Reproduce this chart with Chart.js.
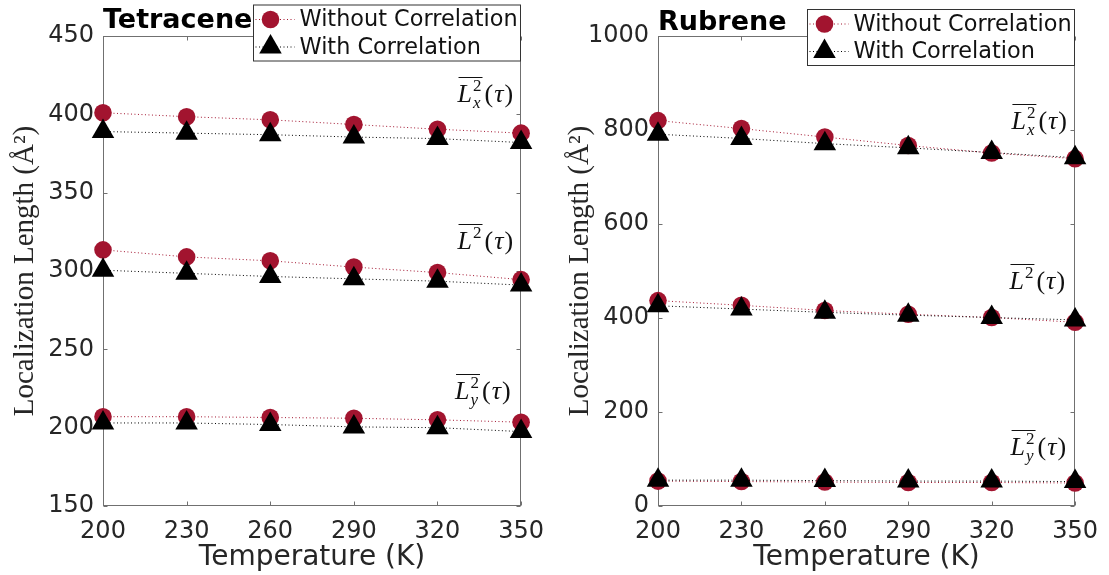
<!DOCTYPE html>
<html>
<head>
<meta charset="utf-8">
<script src="https://cdn.jsdelivr.net/npm/chart.js@4.4.1/dist/chart.umd.min.js"></script>
<style>
  html, body { margin: 0; padding: 0; background: #fff; }
  #wrap { position: relative; width: 1109px; height: 575px; }
  .panel { position: absolute; top: 0; }
</style>
</head>
<body>
<div id="wrap">
  <div class="panel" style="left:0"><canvas id="tetraceneChart" width="555" height="575"></canvas></div>
  <div class="panel" style="left:555px"><canvas id="rubreneChart" width="554" height="575"></canvas></div>
</div>
<script>
// temperatures (K) shared by both panels
const temperatures = [200, 230, 260, 290, 320, 350];
const xTicks = [200, 230, 260, 290, 320, 350];

// Tetracene, localization length (A^2)
const tetLxWithout = [401, 398.5, 396.5, 393.5, 390.5, 388];
const tetLxWith = [389, 388, 387, 385.5, 384.5, 382];
const tetL2Without = [313.5, 309, 306.5, 302.5, 299, 294.5];
const tetL2With = [300.5, 298.5, 296.5, 295, 293.5, 291];
const tetLyWithout = [207, 207, 206.5, 206, 205, 203.5];
const tetLyWith = [203, 203, 202, 200.5, 200, 197.5];
const tetYTicks = [150, 200, 250, 300, 350, 400, 450];

// Rubrene, localization length (A^2)
const rubLxWithout = [820, 803, 785, 767, 751, 739];
const rubLxWith = [791, 782, 771, 762, 752, 741];
const rubL2Without = [437, 427, 416, 408, 401, 391];
const rubL2With = [426, 419, 412, 406, 401, 396];
const rubLyWithout = [53, 52, 51, 50, 50, 49];
const rubLyWith = [55, 55, 54, 53, 53, 52];
const rubYTicks = [0, 200, 400, 600, 800, 1000];

const seriesNames = ["Without Correlation", "With Correlation"];

// where the curve names sit (data units: left edge, baseline)
const tetCurveLabels = [
  { sub: "x", x: 327.2, y: 408 },
  { sub: "", x: 327.2, y: 314.3 },
  { sub: "y", x: 326.3, y: 218.6 },
];
const rubCurveLabels = [
  { sub: "x", x: 327.1, y: 803 },
  { sub: "", x: 326.4, y: 462.5 },
  { sub: "y", x: 326.8, y: 108 },
];

const RED = "#A2142F";
const AXIS = "#707070";
const TEXT = "#262626";

function toPoints(values) {
  return temperatures.map((t, i) => ({ x: t, y: values[i] }));
}

function withoutSet(values) {
  return {
    label: seriesNames[0],
    data: toPoints(values),
    borderColor: RED,
    backgroundColor: RED,
    borderWidth: 1,
    borderDash: [1, 2.5],
    pointStyle: "circle",
    pointRadius: 8.8,
    pointBorderWidth: 0,
    pointBackgroundColor: RED,
    clip: false,
    order: 2,
  };
}

function withSet(values) {
  return {
    label: seriesNames[1],
    data: toPoints(values),
    borderColor: "#000",
    backgroundColor: "#000",
    borderWidth: 1,
    borderDash: [1, 2.5],
    pointStyle: "triangle",
    pointRadius: 13,
    pointBorderWidth: 0,
    pointBackgroundColor: "#000",
    clip: false,
    order: 1,
  };
}

function drawCurveLabel(ctx, x, y, sub) {
  ctx.save();
  ctx.fillStyle = "#111";
  ctx.textAlign = "left";
  ctx.textBaseline = "alphabetic";
  ctx.font = 'italic 26px "Liberation Serif"';
  ctx.fillText("L", x, y);
  let cx = x + ctx.measureText("L").width + 1;
  ctx.font = '17px "Liberation Serif"';
  ctx.fillText("2", cx, y - 11);
  let w = ctx.measureText("2").width;
  if (sub) {
    ctx.font = 'italic 17px "Liberation Serif"';
    ctx.fillText(sub, cx, y + 6);
    w = Math.max(w, ctx.measureText(sub).width);
  }
  cx += w + 1;
  ctx.strokeStyle = "#111";
  ctx.lineWidth = 1;
  ctx.beginPath();
  ctx.moveTo(x + 1, Math.round(y - 25) + 0.5);
  ctx.lineTo(cx, Math.round(y - 25) + 0.5);
  ctx.stroke();
  cx += 2;
  ctx.font = '26px "Liberation Serif"';
  ctx.fillText("(", cx, y);
  cx += ctx.measureText("(").width + 1;
  ctx.font = 'italic 26px "Liberation Serif"';
  ctx.fillText("\u03C4", cx, y);
  cx += ctx.measureText("\u03C4").width + 1;
  ctx.font = '26px "Liberation Serif"';
  ctx.fillText(")", cx, y);
  ctx.restore();
}

// box round the axes with inward ticks, like matlab
const matlabFrame = {
  id: "matlabFrame",
  beforeDatasetsDraw(chart) {
    const { ctx, chartArea: a, scales } = chart;
    const L = Math.round(a.left) + 0.5, R = Math.round(a.right) - 0.5;
    const T = Math.round(a.top) + 0.5, B = Math.round(a.bottom) - 0.5;
    ctx.save();
    ctx.strokeStyle = AXIS;
    ctx.lineWidth = 1;
    ctx.strokeRect(L, T, R - L, B - T);
    ctx.beginPath();
    scales.x.ticks.forEach((t) => {
      const px = Math.round(scales.x.getPixelForValue(t.value)) + 0.5;
      ctx.moveTo(px, B); ctx.lineTo(px, B - 4);
      ctx.moveTo(px, T); ctx.lineTo(px, T + 4);
    });
    scales.y.ticks.forEach((t) => {
      const py = Math.round(scales.y.getPixelForValue(t.value)) + 0.5;
      ctx.moveTo(L, py); ctx.lineTo(L + 4, py);
      ctx.moveTo(R, py); ctx.lineTo(R - 4, py);
    });
    ctx.stroke();
    ctx.restore();
  },
  afterDraw(chart) {
    const { ctx, chartArea: a, scales } = chart;
    const opts = chart.options.plugins.matlabFrame;

    // panel title
    ctx.save();
    ctx.fillStyle = "#000";
    ctx.font = 'bold 27px "DejaVu Sans"';
    ctx.textAlign = "left";
    ctx.textBaseline = "alphabetic";
    ctx.fillText(opts.title, a.left, opts.titleY);
    ctx.restore();

    // curve names
    opts.curveLabels.forEach((c) => {
      drawCurveLabel(ctx, scales.x.getPixelForValue(c.x), scales.y.getPixelForValue(c.y), c.sub);
    });

    // legend with a border
    const w = 268, h = 56;
    const left = Math.round(a.right - w) + 0.5, top = opts.legendTop + 0.5;
    ctx.save();
    ctx.fillStyle = "#fff";
    ctx.fillRect(left, top, w - 1, h);
    ctx.strokeStyle = "#333";
    ctx.lineWidth = 1;
    ctx.strokeRect(left, top, w - 1, h);
    const shown = [chart.data.datasets.find((d) => d.label === seriesNames[0]),
                   chart.data.datasets.find((d) => d.label === seriesNames[1])];
    shown.forEach((d, i) => {
      const cy = top + 14.5 + i * 27.5;
      const mx = left + 17;
      ctx.strokeStyle = d.borderColor;
      ctx.setLineDash([1, 2.5]);
      ctx.beginPath();
      ctx.moveTo(mx - 15, cy); ctx.lineTo(mx + 24, cy);
      ctx.stroke();
      ctx.setLineDash([]);
      ctx.fillStyle = d.pointBackgroundColor;
      ctx.beginPath();
      if (d.pointStyle === "circle") {
        ctx.arc(mx, cy, d.pointRadius, 0, Math.PI * 2);
      } else {
        const r = d.pointRadius;
        ctx.moveTo(mx, cy - r);
        ctx.lineTo(mx + r * Math.sin(2 * Math.PI / 3), cy + r / 2);
        ctx.lineTo(mx - r * Math.sin(2 * Math.PI / 3), cy + r / 2);
        ctx.closePath();
      }
      ctx.fill();
      ctx.fillStyle = "#111";
      ctx.font = '22.4px "DejaVu Sans"';
      ctx.textAlign = "left";
      ctx.textBaseline = "middle";
      ctx.fillText(d.label, left + 46, cy + 1);
    });
    ctx.restore();
  },
};

function makeOptions(yMin, yMax, yTicks, rightPad, title, titleY, legendTop, curveLabels) {
  return {
    responsive: false,
    animation: false,
    events: [],
    layout: { padding: { top: 36, right: rightPad, left: 0, bottom: 0 } },
    plugins: {
      legend: { display: false },
      tooltip: { enabled: false },
      matlabFrame: { title: title, titleY: titleY, legendTop: legendTop, curveLabels: curveLabels },
    },
    scales: {
      x: {
        type: "linear",
        min: 200,
        max: 350,
        afterBuildTicks: (s) => { s.ticks = xTicks.map((v) => ({ value: v })); },
        afterFit: (s) => { s.height = 69; },
        grid: { display: false, drawTicks: false },
        border: { display: false },
        ticks: {
          font: { family: "DejaVu Sans", size: 24 },
          color: TEXT,
          padding: 11,
          maxRotation: 0,
          autoSkip: false,
          callback: (v) => String(v),
        },
        title: {
          display: true,
          text: "Temperature (K)",
          font: { family: "DejaVu Sans", size: 28 },
          color: TEXT,
          padding: { top: 0, bottom: 0 },
        },
      },
      y: {
        min: yMin,
        max: yMax,
        afterBuildTicks: (s) => { s.ticks = yTicks.map((v) => ({ value: v })); },
        afterFit: (s) => { s.width = 103; },
        grid: { display: false, drawTicks: false },
        border: { display: false },
        ticks: {
          font: { family: "DejaVu Sans", size: 24 },
          color: TEXT,
          padding: 9,
          autoSkip: false,
          callback: (v) => String(v),
        },
        title: {
          display: true,
          text: "Localization Length (\u00C5\u00B2)",
          font: { family: "Liberation Serif", size: 29 },
          color: TEXT,
          padding: { top: 8, bottom: 0 },
        },
      },
    },
  };
}

const ctx1 = document.getElementById("tetraceneChart").getContext("2d");
const ctx2 = document.getElementById("rubreneChart").getContext("2d");

const tetraceneChart = new Chart(ctx1, {
  type: "line",
  data: {
    datasets: [
      withoutSet(tetLxWithout), withSet(tetLxWith),
      withoutSet(tetL2Without), withSet(tetL2With),
      withoutSet(tetLyWithout), withSet(tetLyWith),
    ],
  },
  options: makeOptions(150, 450, tetYTicks, 31, "Tetracene", 28, 4.5, tetCurveLabels),
  plugins: [matlabFrame],
});

const rubreneChart = new Chart(ctx2, {
  type: "line",
  data: {
    datasets: [
      withoutSet(rubLxWithout), withSet(rubLxWith),
      withoutSet(rubL2Without), withSet(rubL2With),
      withoutSet(rubLyWithout), withSet(rubLyWith),
    ],
  },
  options: makeOptions(0, 1000, rubYTicks, 30, "Rubrene", 29.5, 9, rubCurveLabels),
  plugins: [matlabFrame],
});
</script>
</body>
</html>
